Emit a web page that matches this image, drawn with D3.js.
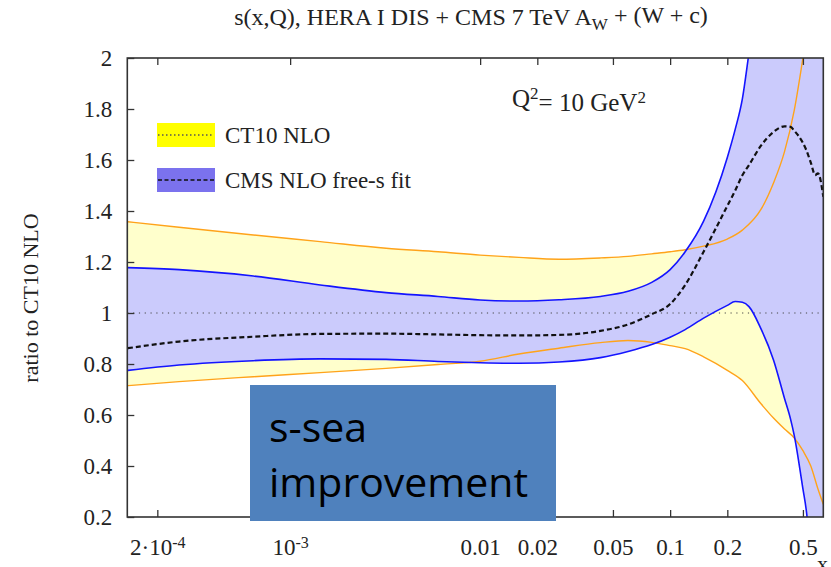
<!DOCTYPE html>
<html>
<head>
<meta charset="utf-8">
<script src="https://cdn.jsdelivr.net/npm/d3@7"></script>
<style>
  html, body { margin: 0; padding: 0; background: #ffffff; }
  svg { display: block; }
  .serif { font-family: "Liberation Serif", "DejaVu Serif", serif; fill: #222; }
</style>
</head>
<body>
<svg id="chart" width="831" height="567"></svg>
<script>
// CT10 NLO uncertainty band (ratio to CT10 NLO central value)
const ct10X  = [1.4e-4, 2.6e-4, 6.4e-4, 1.44e-3, 3.2e-3, 6e-3, 0.01, 0.016, 0.026, 0.043, 0.06, 0.08, 0.1, 0.12, 0.15, 0.2, 0.24, 0.3, 0.35, 0.4, 0.45, 0.5, 0.55, 0.6, 0.64];
const ct10Up = [1.358, 1.336, 1.306, 1.28, 1.254, 1.24, 1.227, 1.218, 1.211, 1.216, 1.222, 1.232, 1.24, 1.248, 1.262, 1.29, 1.325, 1.405, 1.51, 1.633, 1.795, 2.0, 2.2, 2.4, 2.55];
const ct10Dn = [0.715, 0.731, 0.75, 0.766, 0.783, 0.798, 0.811, 0.839, 0.862, 0.884, 0.892, 0.885, 0.872, 0.86, 0.828, 0.775, 0.735, 0.645, 0.588, 0.545, 0.51, 0.46, 0.40, 0.31, 0.25];

// CMS NLO free-s fit: central value and uncertainty band
const cmsX       = [1.4e-4, 2.6e-4, 6.4e-4, 1.44e-3, 3.2e-3, 6e-3, 0.01, 0.016, 0.026, 0.043, 0.06, 0.08, 0.1, 0.12, 0.15, 0.2, 0.22, 0.24, 0.26, 0.3, 0.35, 0.4, 0.43, 0.45, 0.5, 0.52, 0.55, 0.58, 0.6, 0.64];
const cmsUp      = [1.178, 1.17, 1.145, 1.11, 1.08, 1.065, 1.051, 1.047, 1.052, 1.065, 1.085, 1.12, 1.17, 1.24, 1.36, 1.61, 1.72, 1.84, 2.02, 2.35, 2.9, 3.4, 3.7, 3.9, 4.4, 4.6, 4.9, 5.2, 5.4, 5.8];
const cmsCentral = [0.862, 0.888, 0.907, 0.918, 0.919, 0.916, 0.913, 0.912, 0.914, 0.93, 0.955, 0.995, 1.035, 1.11, 1.24, 1.42, 1.48, 1.54, 1.58, 1.655, 1.71, 1.732, 1.73, 1.715, 1.667, 1.64, 1.59, 1.541, 1.548, 1.456];
const cmsDn      = [0.775, 0.796, 0.813, 0.82, 0.818, 0.81, 0.805, 0.803, 0.808, 0.825, 0.849, 0.876, 0.905, 0.935, 0.98, 1.03, 1.045, 1.042, 1.025, 0.94, 0.816, 0.665, 0.585, 0.52, 0.31, 0.23, 0.05, -0.15, -0.3, -0.6];

// Axis ticks
const xTickValues = [2e-4, 1e-3, 0.01, 0.02, 0.05, 0.1, 0.2, 0.5];
const xTickLabels = [["2·10", "-4"], ["10", "-3"], ["0.01"], ["0.02"], ["0.05"], ["0.1"], ["0.2"], ["0.5"]];
const yTickValues = [0.2, 0.4, 0.6, 0.8, 1.0, 1.2, 1.4, 1.6, 1.8, 2.0];
const yTickLabels = ["0.2", "0.4", "0.6", "0.8", "1", "1.2", "1.4", "1.6", "1.8", "2"];

const legendLabels = ["CT10 NLO", "CMS NLO free-s fit"];

const svg = d3.select("#chart");
const plot = { left: 127.3, right: 823.3, top: 58, bottom: 517 };

const x = d3.scaleLog().domain([1.39e-4, 0.64]).range([plot.left, plot.right]);
const y = d3.scaleLinear().domain([0.2, 2]).range([plot.bottom, plot.top]);

svg.append("defs").append("clipPath").attr("id", "plotClip")
  .append("rect")
  .attr("x", plot.left).attr("y", plot.top)
  .attr("width", plot.right - plot.left).attr("height", plot.bottom - plot.top);

const g = svg.append("g").attr("clip-path", "url(#plotClip)");

const ct10 = ct10X.map((v, i) => ({ x: v, hi: ct10Up[i], lo: ct10Dn[i] }));
const cms = cmsX.map((v, i) => ({ x: v, hi: cmsUp[i], lo: cmsDn[i], c: cmsCentral[i] }));

const curve = d3.curveMonotoneX;
const band = d3.area().x(d => x(d.x)).y0(d => y(d.lo)).y1(d => y(d.hi)).curve(curve);
const lineOf = key => d3.line().x(d => x(d.x)).y(d => y(d[key])).curve(curve);

// bands
g.append("path").datum(ct10).attr("d", band).attr("fill", "#ffffcc");
g.append("path").datum(cms).attr("d", band).attr("fill", "#cbcbfc");

// reference line at ratio 1
g.append("line")
  .attr("x1", plot.left).attr("x2", plot.right)
  .attr("y1", y(1)).attr("y2", y(1))
  .attr("stroke", "#444").attr("stroke-width", 1).attr("stroke-dasharray", "1.2,4.6");

// band edges
g.append("path").datum(ct10).attr("d", lineOf("hi")).attr("fill", "none").attr("stroke", "#ffa31a").attr("stroke-width", 1.4);
g.append("path").datum(ct10).attr("d", lineOf("lo")).attr("fill", "none").attr("stroke", "#ffa31a").attr("stroke-width", 1.4);
g.append("path").datum(cms).attr("d", lineOf("hi")).attr("fill", "none").attr("stroke", "#1414ff").attr("stroke-width", 1.6);
g.append("path").datum(cms).attr("d", lineOf("lo")).attr("fill", "none").attr("stroke", "#1414ff").attr("stroke-width", 1.6);

// CMS central value
g.append("path").datum(cms).attr("d", lineOf("c")).attr("fill", "none")
  .attr("stroke", "#111").attr("stroke-width", 2.2).attr("stroke-dasharray", "5,3");

// axes (ticks point into the plot)
const axisColor = "#333";
const tickFont = 23;
const xBottom = svg.append("g").attr("transform", `translate(0,${plot.bottom})`)
  .call(d3.axisBottom(x).tickValues(xTickValues).tickSizeInner(-7).tickSizeOuter(0).tickPadding(22).tickFormat(() => ""));
const xTop = svg.append("g").attr("transform", `translate(0,${plot.top})`)
  .call(d3.axisTop(x).tickValues(xTickValues).tickSizeInner(-7).tickSizeOuter(0).tickFormat(() => ""));
const yLeft = svg.append("g").attr("transform", `translate(${plot.left},0)`)
  .call(d3.axisLeft(y).tickValues(yTickValues).tickSizeInner(-7).tickSizeOuter(0).tickPadding(15)
    .tickFormat((d, i) => yTickLabels[i]));

[xBottom, xTop, yLeft].forEach(a => {
  a.select(".domain").remove();
  a.selectAll(".tick line").attr("stroke", axisColor).attr("stroke-width", 1.3);
});
yLeft.selectAll(".tick text")
  .attr("class", "serif").attr("font-size", tickFont).attr("fill", "#222");

// x tick labels with superscripts
xBottom.selectAll(".tick text").each(function (d, i) {
  const t = d3.select(this).attr("class", "serif").attr("font-size", tickFont).attr("fill", "#222");
  const parts = xTickLabels[i];
  t.text(null);
  t.append("tspan").text(parts[0]);
  if (parts[1]) {
    t.append("tspan").attr("dy", "-0.45em").attr("font-size", 16).text(parts[1]);
  }
});

// frame
svg.append("rect")
  .attr("x", plot.left).attr("y", plot.top)
  .attr("width", plot.right - plot.left).attr("height", plot.bottom - plot.top)
  .attr("fill", "none").attr("stroke", axisColor).attr("stroke-width", 1.6);

// axis titles
svg.append("text").attr("class", "serif").attr("font-size", 22)
  .attr("x", 817).attr("y", 571).text("x");
svg.append("text").attr("class", "serif").attr("font-size", 22)
  .attr("text-anchor", "middle")
  .attr("transform", "translate(38,298) rotate(-90)")
  .text("ratio to CT10 NLO");

// title
const title = svg.append("text").attr("class", "serif").attr("font-size", 24)
  .attr("text-anchor", "middle").attr("x", 471).attr("y", 25);
title.append("tspan").text("s(x,Q), HERA I DIS + CMS 7 TeV A");
title.append("tspan").attr("dy", "0.3em").attr("font-size", 17).text("W");
title.append("tspan").attr("dy", "-0.3em").attr("font-size", 24).text(" + (W + c)");

// scale annotation
const q = svg.append("text").attr("class", "serif").attr("font-size", 25).attr("x", 512).attr("y", 107);
q.append("tspan").text("Q");
q.append("tspan").attr("dy", "-0.5em").attr("font-size", 17).text("2");
q.append("tspan").attr("dy", "0.5em").attr("font-size", 25).text("= 10 GeV");
q.append("tspan").attr("dy", "-0.5em").attr("font-size", 17).text("2");

// legend
const legend = svg.append("g");
const swatches = [
  { fill: "#ffff00", dash: "1.5,2.5", stroke: "#555" },
  { fill: "#7b72ee", dash: "4,2.5", stroke: "#111" }
];
legendLabels.forEach((label, i) => {
  const y0 = 123 + i * 45;
  legend.append("rect").attr("x", 157).attr("y", y0).attr("width", 58).attr("height", 24)
    .attr("fill", swatches[i].fill);
  legend.append("line").attr("x1", 158).attr("x2", 214).attr("y1", y0 + 12).attr("y2", y0 + 12)
    .attr("stroke", swatches[i].stroke).attr("stroke-width", 1.3).attr("stroke-dasharray", swatches[i].dash);
  legend.append("text").attr("class", "serif").attr("font-size", 23)
    .attr("x", 225).attr("y", y0 + 20).text(label);
});

// callout box
svg.append("rect").attr("x", 250).attr("y", 385).attr("width", 306).attr("height", 136)
  .attr("fill", "#4f81bd");
const note = svg.append("text").attr("font-family", "'Open Sans', 'Noto Sans', sans-serif")
  .attr("font-size", 41).attr("fill", "#000");
note.append("tspan").attr("x", 269).attr("y", 442).text("s-sea");
note.append("tspan").attr("x", 269).attr("y", 497).text("improvement");
</script>
</body>
</html>
